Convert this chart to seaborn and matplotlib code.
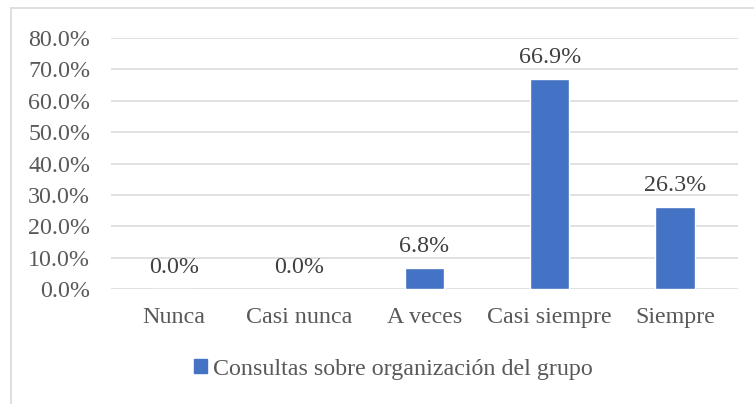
import matplotlib
matplotlib.use("Agg")
import matplotlib.pyplot as plt
from matplotlib.lines import Line2D
from matplotlib.patches import Patch
import seaborn as sns
import pandas as pd

categories = ["Nunca", "Casi nunca", "A veces", "Casi siempre", "Siempre"]
values = [0.0, 0.0, 6.8, 66.9, 26.3]
series_name = "Consultas sobre organización del grupo"
yticks = [0, 10, 20, 30, 40, 50, 60, 70, 80]

sns.set_theme(style="white")
plt.rcParams['font.family'] = ['Liberation Serif', 'DejaVu Serif']

BAR = "#4472C4"
TXT = "#595959"
LBL = "#404040"
GRID = "#D9D9D9"
FS = 17.3

df = pd.DataFrame({"cat": categories, "val": values})

fig = plt.figure(figsize=(7.54, 4.04), dpi=100)
ax = fig.add_axes([111/754, 1-289.3/404, (737.7-111)/754, (289.3-38)/404])

sns.barplot(data=df, x="cat", y="val", color=BAR, width=0.315, ax=ax, saturation=1)

ax.set_ylim(0, 80)
ax.set_yticks(yticks)
ax.set_yticklabels([f"{t:.1f}%" for t in yticks])
ax.set_xlabel("")
ax.set_ylabel("")
for s in ax.spines.values():
    s.set_visible(False)
ax.grid(axis="y", color=GRID, lw=1.1)
ax.set_axisbelow(True)
ax.tick_params(axis="y", length=0, pad=15, labelsize=FS, labelcolor=TXT)
ax.tick_params(axis="x", length=0, pad=13, labelsize=FS, labelcolor=TXT)

for i, v in enumerate(values):
    ax.annotate(f"{v:.1f}%", xy=(i, v), xytext=(0, 11.5), textcoords="offset points",
                ha="center", va="baseline", fontsize=FS, color=LBL)

handle = Patch(facecolor=BAR, edgecolor=BAR)
fig.legend([handle], [series_name], loc="center", bbox_to_anchor=(393.5/754, 1-369/404),
           frameon=False, fontsize=FS, labelcolor=TXT, handlelength=0.55, handleheight=0.55,
           handletextpad=0.25)

fig.add_artist(Line2D([11/754, 1.0], [1-8/404, 1-8/404], color=GRID, lw=1.2, transform=fig.transFigure))
fig.add_artist(Line2D([11/754, 11/754], [0.0, 1-8/404], color=GRID, lw=1.2, transform=fig.transFigure))

fig.savefig("out.png", dpi=100, facecolor="white")
